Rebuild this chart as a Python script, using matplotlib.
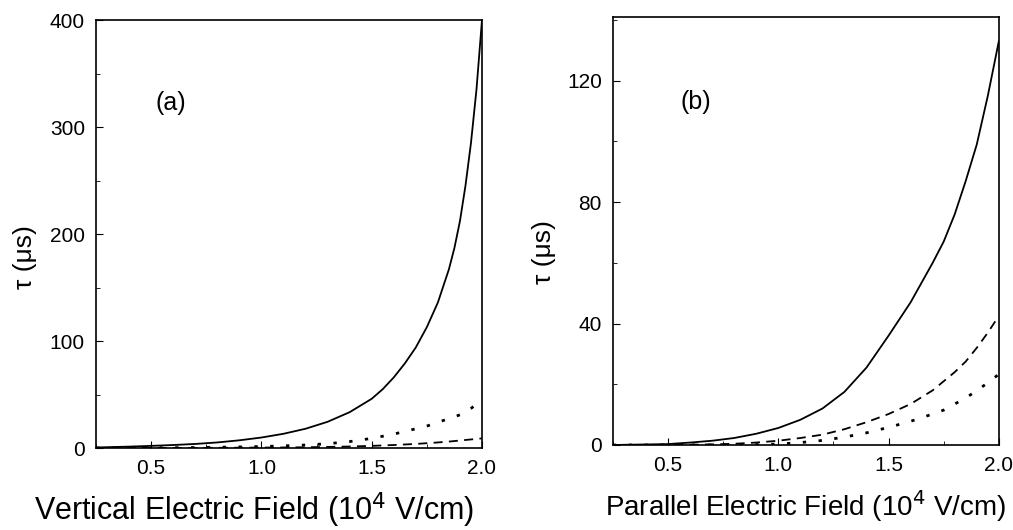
import matplotlib.pyplot as plt
from matplotlib.ticker import MultipleLocator

plt.rcParams['font.family'] = ['Liberation Sans', 'DejaVu Sans']

# (a) vertical field (10^4 V/cm) and tau (us)
field_a = [0.25, 0.4, 0.5, 0.6, 0.7, 0.8, 0.9, 1.0, 1.1, 1.2, 1.3, 1.4, 1.5,
           1.55, 1.6, 1.65, 1.7, 1.75, 1.8, 1.85, 1.875, 1.9, 1.925, 1.95,
           1.975, 2.0]
tau_a_solid = [0.5, 1.3, 2.0, 2.8, 3.8, 5.2, 7.2, 9.8, 13.3, 18, 24.5, 33.5, 46,
               55, 66, 79, 94, 113, 136, 167, 187, 212, 245, 285, 335, 400]
tau_a_dotted = [0.0, 0.1, 0.2, 0.3, 0.5, 0.7, 1.0, 1.4, 2.0, 2.8, 4.0, 6.0, 9.0,
                11, 13, 15.5, 18, 20.5, 24, 27.5, 29.2, 31, 33.8, 37, 40.8, 45]
tau_a_dashed = [0.0, 0.0, 0.0, 0.1, 0.1, 0.2, 0.3, 0.4, 0.5, 0.7, 1.0, 1.4, 2.0,
                2.4, 2.8, 3.3, 3.8, 4.5, 5.2, 6.0, 6.5, 7.0, 7.5, 8.0, 8.5, 9.0]

# (b) parallel field (10^4 V/cm) and tau (us)
field_b = [0.25, 0.5, 0.6, 0.7, 0.8, 0.9, 1.0, 1.1, 1.2, 1.3, 1.4, 1.5,
           1.6, 1.7, 1.75, 1.8, 1.85, 1.9, 1.95, 2.0]
tau_b_solid = [0.0, 0.3, 0.8, 1.4, 2.3, 3.7, 5.6, 8.3, 12, 17.5, 25.5, 36,
               47, 60, 67, 76, 87, 99, 115, 133]
tau_b_dashed = [0.0, 0.0, 0.1, 0.2, 0.4, 0.8, 1.4, 2.3, 3.4, 5.2, 7.5, 10.2,
                13.5, 18, 21, 24, 27.5, 32, 37, 42.5]
tau_b_dotted = [0.0, 0.0, 0.0, 0.0, 0.0, 0.1, 0.3, 0.8, 1.5, 2.6, 4.0, 5.8,
                7.8, 10.2, 11.5, 13.5, 15.5, 17.9, 20.5, 23.3]

fig = plt.figure(figsize=(10.13, 5.3), dpi=100)
ax_a = fig.add_axes([0.0948, 0.1547, 0.381, 0.8075])
ax_b = fig.add_axes([0.605, 0.1604, 0.381, 0.8075])

dots = (0, (1.2, 4.5))
dashes = (0, (5, 3.5))

ax_a.plot(field_a, tau_a_solid, color='black', lw=1.3)
ax_a.plot(field_a, tau_a_dotted, color='black', lw=2.0, linestyle=dots)
ax_a.plot(field_a, tau_a_dashed, color='black', lw=1.3, linestyle=dashes)

ax_b.plot(field_b, tau_b_solid, color='black', lw=1.3)
ax_b.plot(field_b, tau_b_dashed, color='black', lw=1.3, linestyle=dashes)
ax_b.plot(field_b, tau_b_dotted, color='black', lw=2.0, linestyle=dots)

for ax in (ax_a, ax_b):
    ax.set_xlim(0.25, 2.0)
    ax.xaxis.set_major_locator(MultipleLocator(0.5))
    ax.xaxis.set_minor_locator(MultipleLocator(0.25))
    ax.xaxis.set_major_formatter(plt.FuncFormatter(lambda v, p: f'{v:.1f}'))
    ax.tick_params(which='both', direction='in', top=False, right=False,
                   labelsize=15, pad=8)
    ax.tick_params(which='major', length=5)
    ax.tick_params(which='minor', length=3)
    for sp in ax.spines.values():
        sp.set_linewidth(1.2)

ax_a.set_ylim(0, 400)
ax_a.yaxis.set_major_locator(MultipleLocator(100))
ax_a.yaxis.set_minor_locator(MultipleLocator(50))
ax_b.set_ylim(0, 141)
ax_b.yaxis.set_major_locator(MultipleLocator(40))
ax_b.yaxis.set_minor_locator(MultipleLocator(20))

ax_a.set_xlabel('Vertical Electric Field (10$^{4}$ V/cm)', fontsize=22, va='top')
ax_a.xaxis.set_label_coords(0.41, -0.10)
ax_b.set_xlabel('Parallel Electric Field (10$^{4}$ V/cm)', fontsize=20, va='top')
ax_b.xaxis.set_label_coords(0.50, -0.10)

ax_a.set_ylabel('τ (μs)', fontsize=19, va='center')
ax_a.yaxis.set_label_coords(-0.184, 0.446)
ax_b.set_ylabel('τ (μs)', fontsize=19, va='center')
ax_b.yaxis.set_label_coords(-0.179, 0.451)

ax_a.text(0.59, 322, '(a)', fontsize=18, ha='center', va='center')
ax_b.text(0.626, 113, '(b)', fontsize=18, ha='center', va='center')

fig.savefig('out.png', dpi=100)
